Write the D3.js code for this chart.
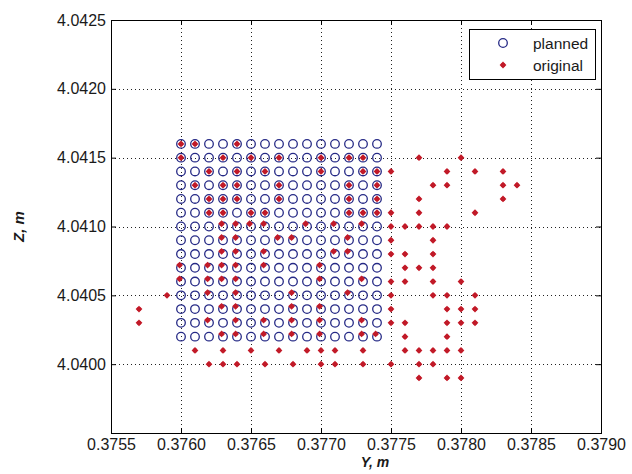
<!DOCTYPE html>
<meta charset="utf-8">
<style>
  body { margin: 0; background: #fff; }
  #my_dataviz text { font-family: "Liberation Sans", Arial, sans-serif; fill: #1a1a1a; }
</style>
<script src="https://d3js.org/d3.v7.min.js"></script>
<div id="my_dataviz"></div>
<script>
// tick values
var xTicks = [0.3755, 0.3760, 0.3765, 0.3770, 0.3775, 0.3780, 0.3785, 0.3790];
var yTicks = [4.0400, 4.0405, 4.0410, 4.0415, 4.0420, 4.0425];

// planned grid (Y, Z values)
var plannedY = [0.3760, 0.3761, 0.3762, 0.3763, 0.3764, 0.3765, 0.3766, 0.3767,
                0.3768, 0.3769, 0.3770, 0.3771, 0.3772, 0.3773, 0.3774];
var plannedZ = [4.0416, 4.0415, 4.0414, 4.0413, 4.0412, 4.0411, 4.0410, 4.0409,
                4.0408, 4.0407, 4.0406, 4.0405, 4.0404, 4.0403, 4.0402];

// original points landing on the planned grid (lower rows sit a bit high)
var insideZ = [4.0416, 4.0415, 4.0414, 4.0413, 4.0412, 4.0411, 4.04102, 4.04092,
               4.04082, 4.04072, 4.04062, 4.04052, 4.04042, 4.04032, 4.04022];
var insideY = [
  [0.3760, 0.3761, 0.3764],
  [0.3760, 0.3763, 0.3765, 0.3767, 0.3770, 0.3772, 0.3773],
  [0.3762, 0.3764, 0.3766, 0.3770, 0.3773, 0.3774],
  [0.3761, 0.3763, 0.3764, 0.3767, 0.3772, 0.3774],
  [0.3762, 0.3763, 0.3764, 0.3767, 0.3772, 0.3774],
  [0.3762, 0.3763, 0.3765, 0.3766, 0.3772, 0.3773, 0.3774],
  [0.37629, 0.37639, 0.37649, 0.37659, 0.37689, 0.37709, 0.37729],
  [0.37629, 0.37639, 0.37669, 0.37679, 0.37719],
  [0.37629, 0.37639, 0.37659, 0.37709, 0.37719],
  [0.37599, 0.37619, 0.37629, 0.37639, 0.37659, 0.37699],
  [0.37599, 0.37619, 0.37629, 0.37639, 0.37699, 0.37729],
  [0.37619, 0.37639, 0.37679, 0.37719],
  [0.37629, 0.37639, 0.37679, 0.37699],
  [0.37619, 0.37639, 0.37659, 0.37679, 0.37699, 0.37729],
  [0.37629, 0.37639, 0.37659, 0.37679, 0.37699, 0.37729, 0.37739]
];

// original points outside the planned grid
var outsideZ = [4.0415, 4.0414, 4.0413, 4.0412, 4.0411, 4.0410, 4.0409, 4.0408,
                4.0407, 4.0406, 4.0405, 4.0404, 4.0403, 4.0402, 4.0401, 4.0400, 4.0399];
var outsideY = [
  [0.3777, 0.3780],
  [0.3775, 0.3779, 0.3781, 0.3783],
  [0.3778, 0.3779, 0.3783, 0.3784],
  [0.3777, 0.3783],
  [0.3775, 0.3777, 0.3781],
  [0.3775, 0.3776, 0.3777, 0.3778, 0.3779],
  [0.3775, 0.3778],
  [0.3775, 0.3776, 0.3778],
  [0.3776, 0.3777, 0.3778],
  [0.3775, 0.3776, 0.3778, 0.3780],
  [0.3759, 0.3775, 0.3778, 0.3779, 0.3781],
  [0.3757, 0.3775, 0.3779, 0.3780, 0.3781],
  [0.3757, 0.3775, 0.3776, 0.3779, 0.3780, 0.3781],
  [0.3776, 0.3779],
  [0.3761, 0.3763, 0.3765, 0.3767, 0.3769, 0.3770, 0.3771, 0.3773, 0.3776, 0.3777, 0.3778, 0.3779, 0.3780],
  [0.3762, 0.3763, 0.3764, 0.3766, 0.3768, 0.3770, 0.3771, 0.3773, 0.3775, 0.3777, 0.3778],
  [0.3777, 0.3779, 0.3780]
];

var legendLabels = ["planned", "original"];

var margin = {top: 20, right: 31, bottom: 41, left: 111},
    width = 632 - margin.left - margin.right,
    height = 474 - margin.top - margin.bottom;

var svg = d3.select("#my_dataviz")
  .append("svg")
    .attr("width", 632)
    .attr("height", 474);

var g = svg.append("g")
    .attr("transform", "translate(" + margin.left + "," + margin.top + ")");

var x = d3.scaleLinear().domain([0.3755, 0.3790]).range([0, width]);
var y = d3.scaleLinear().domain([4.0395, 4.0425]).range([height, 0]);

// dotted grid
g.selectAll(".vgrid")
  .data(xTicks.slice(1, -1))
  .enter().append("line")
    .attr("x1", d => Math.round(x(d)) + 0.5).attr("x2", d => Math.round(x(d)) + 0.5)
    .attr("y1", 0).attr("y2", height)
    .attr("stroke", "#222").attr("stroke-dasharray", "1,3");
g.selectAll(".hgrid")
  .data(yTicks.slice(0, -1))
  .enter().append("line")
    .attr("y1", d => Math.round(y(d)) + 0.5).attr("y2", d => Math.round(y(d)) + 0.5)
    .attr("x1", 0).attr("x2", width)
    .attr("stroke", "#222").attr("stroke-dasharray", "1,3");

// axes, ticks pointing inward
var fmt = d3.format(".4f");
var xAxis = g.append("g").attr("transform", "translate(0," + height + ")")
  .call(d3.axisBottom(x).tickValues(xTicks).tickFormat(fmt).tickSizeInner(-5).tickSizeOuter(0).tickPadding(6));
var xTop = g.append("g")
  .call(d3.axisTop(x).tickValues(xTicks).tickFormat("").tickSizeInner(-5).tickSizeOuter(0));
var yAxis = g.append("g")
  .call(d3.axisLeft(y).tickValues(yTicks).tickFormat(fmt).tickSizeInner(-5).tickSizeOuter(0).tickPadding(5));
var yRight = g.append("g").attr("transform", "translate(" + width + ",0)")
  .call(d3.axisRight(y).tickValues(yTicks).tickFormat("").tickSizeInner(-5).tickSizeOuter(0));

[xAxis, xTop, yAxis, yRight].forEach(a => {
  a.select(".domain").remove();
  a.selectAll("line").attr("stroke", "#000");
  a.selectAll("text").style("font-size", "16px").attr("fill", "#1a1a1a");
});

g.append("rect")
  .attr("x", 0.5).attr("y", 0.5)
  .attr("width", width).attr("height", height)
  .attr("fill", "none").attr("stroke", "#000");

// planned: open circles
var pts = [];
plannedZ.forEach(z => plannedY.forEach(v => pts.push([v, z])));
g.selectAll(".planned")
  .data(pts)
  .enter().append("circle")
    .attr("cx", d => x(d[0]))
    .attr("cy", d => y(d[1]))
    .attr("r", 4.3)
    .attr("fill", "none")
    .attr("stroke", "#262a86")
    .attr("stroke-width", 1.3);

// original: red points
var orig = [];
insideZ.forEach((z, i) => insideY[i].forEach(v => orig.push([v, z])));
outsideZ.forEach((z, i) => outsideY[i].forEach(v => orig.push([v, z])));

function redMark(sel) {
  sel.append("path").attr("d", "M0,-3.4L3.4,0L0,3.4L-3.4,0Z").attr("fill", "#c81e2c");
  sel.append("circle").attr("r", 2.2).attr("fill", "#c01a28");
}

g.selectAll(".original")
  .data(orig)
  .enter().append("g")
    .attr("transform", d => "translate(" + x(d[0]) + "," + y(d[1]) + ")")
    .call(redMark);

// axis labels
svg.append("text")
  .attr("x", 375)
  .attr("y", 467)
  .attr("text-anchor", "middle")
  .style("font-size", "14px").style("font-weight", "bold").style("font-style", "italic")
  .text("Y, m");
svg.append("text")
  .attr("transform", "translate(24," + (margin.top + height / 2) + ")rotate(-90)")
  .attr("text-anchor", "middle")
  .style("font-size", "15px").style("font-weight", "bold").style("font-style", "italic")
  .text("Z, m");

// legend
var lg = svg.append("g").attr("transform", "translate(469,29)");
lg.append("rect")
  .attr("x", 0.5).attr("y", 0.5).attr("width", 126).attr("height", 50)
  .attr("fill", "#fff").attr("stroke", "#000");
lg.append("circle").attr("cx", 34).attr("cy", 14).attr("r", 4.3)
  .attr("fill", "none").attr("stroke", "#262a86").attr("stroke-width", 1.3);
lg.append("g").attr("transform", "translate(34,36)").call(redMark);
lg.selectAll(".lgtext")
  .data(legendLabels)
  .enter().append("text")
    .attr("x", 64)
    .attr("y", (d, i) => 20 + i * 22)
    .style("font-size", "15.5px")
    .text(d => d);
</script>
